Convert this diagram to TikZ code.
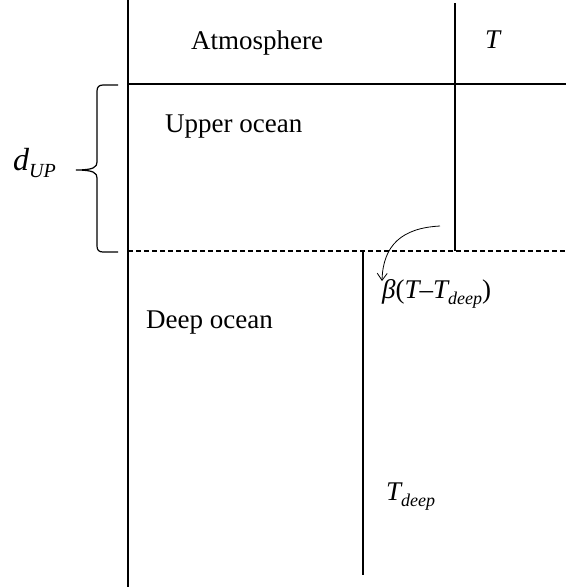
\documentclass[tikz,border=0pt]{standalone}
\usepackage{fontspec}
\setmainfont{Liberation Serif}
\usetikzlibrary{arrows.meta}
\tikzset{
  thinline/.style={line width=1.2pt},
  thickline/.style={line width=2.6pt},
  dashline/.style={line width=1.1pt, dash pattern=on 5pt off 3pt},
  lbl/.style={anchor=base west, inner sep=0pt, font=\fontsize{27}{30}\selectfont},
}
\newcommand{\subsc}[1]{\raisebox{-6pt}{\fontsize{18}{20}\selectfont\itshape #1}}
\begin{document}
\begin{tikzpicture}[x=1pt,y=-1pt]
\useasboundingbox (0,0) rectangle (566,587);
% frame lines
\draw[thinline] (128,0) -- (128,587);
\draw[thinline] (128,84) -- (566,84);
\draw[dashline] (128,251) -- (566,251);
\draw[thickline] (455,3) -- (455,251);
\draw[thickline] (363,251) -- (363,575);
% brace
\draw[line width=1.2pt] (118,85) -- (103,85) .. controls (99,85) and (97,87) .. (97,91) -- (97,162)
  .. controls (97,167) and (94,170) .. (76,170)
  .. controls (94,170) and (97,173) .. (97,178) -- (97,246)
  .. controls (97,250) and (99,252) .. (103,252) -- (118,252);
% labels
\node[lbl] (atm) at (191,49) {Atmosphere};
\node[lbl] (tt) at (485,48) {\itshape T};
\node[lbl] (up) at (165,132) {Upper ocean};
\node[lbl] (deep) at (146,328) {Deep ocean};
\node[lbl] (flux) at (382,298) {\itshape β\upshape(\itshape T\upshape–\itshape T\subsc{deep}\upshape)};
\node[lbl] (td) at (386,500) {\itshape T\subsc{deep}};
\node[anchor=base west, inner sep=0pt, font=\fontsize{32}{34}\selectfont] (dup) at (13,170) {\itshape d\raisebox{-7pt}{\fontsize{20}{22}\selectfont UP}};
% arrow
\coordinate (a0) at (440,226);
\coordinate (a1) at (382,281);
\draw[line width=0.8pt, -{Straight Barb[length=7pt,width=10pt]}] (a0) .. controls (402,228) and (383,245) .. (a1);
\end{tikzpicture}
\end{document}
